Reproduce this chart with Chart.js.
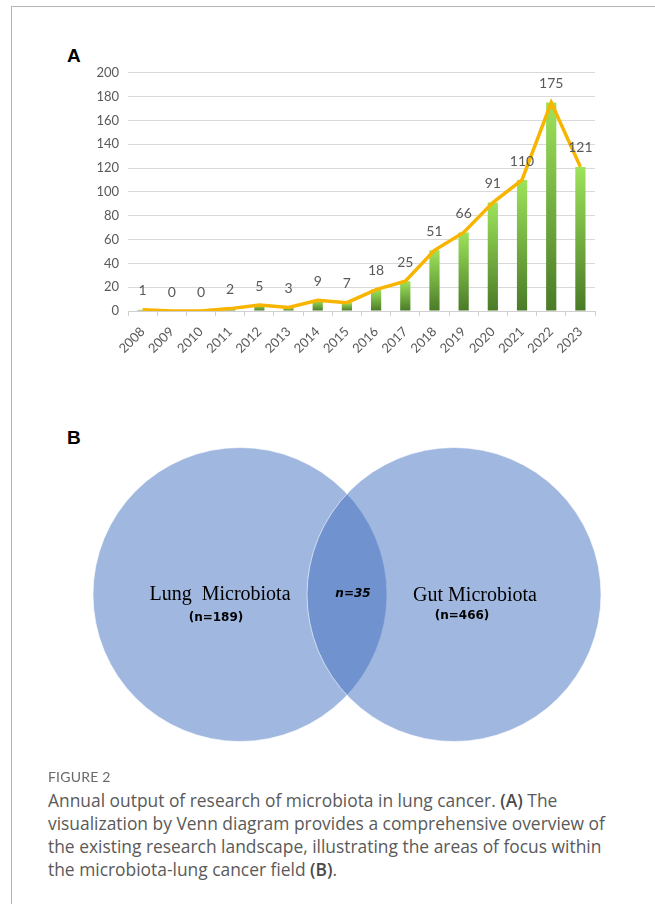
<!DOCTYPE html>
<html>
<head>
<meta charset="utf-8">
<script src="https://cdn.jsdelivr.net/npm/chart.js@4.4.1/dist/chart.umd.min.js"></script>
<style>
  html, body { margin: 0; padding: 0; background: #fff; }
  body { width: 655px; height: 904px; position: relative; overflow: hidden; }
  .frame { position: absolute; left: 11px; top: 6px; width: 644px; height: 898px;
           border-left: 1px solid #b4b4b4; border-top: 1px solid #b4b4b4; }
  .panel { position: absolute; font-family: "Liberation Sans", Arial, sans-serif;
           font-weight: bold; font-size: 19px; color: #000; line-height: 1; }
  #chartA { position: absolute; left: 70px; top: 56px; }
  #chartB { position: absolute; left: 53px; top: 418px; }
  .fig { position: absolute; left: 48px; top: 768px; font-family: Lato, "Open Sans", sans-serif;
         font-size: 14px; color: #6a6a6a; letter-spacing: 0.2px; }
  .caption { position: absolute; left: 48px; top: 789px; font-family: "Open Sans", Lato, sans-serif;
             font-size: 17.4px; line-height: 23px; color: #5a5a5a; white-space: nowrap; }
  .caption b { color: #4a4a4a; font-weight: 600; }
</style>
</head>
<body>
<div class="frame"></div>
<div class="panel" style="left:67px; top:46px;">A</div>
<div class="panel" style="left:67px; top:428px;">B</div>
<canvas id="chartA" width="540" height="316"></canvas>
<canvas id="chartB" width="588" height="353"></canvas>
<div class="fig">FIGURE 2</div>
<div class="caption">Annual output of research of microbiota in lung cancer. <b>(A)</b> The<br>visualization by Venn diagram provides a comprehensive overview of<br>the existing research landscape, illustrating the areas of focus within<br>the microbiota-lung cancer field <b>(B)</b>.</div>

<script>
// Publications per year
const years = ['2008', '2009', '2010', '2011', '2012', '2013', '2014', '2015',
               '2016', '2017', '2018', '2019', '2020', '2021', '2022', '2023'];
const counts = [1, 0, 0, 2, 5, 3, 9, 7, 18, 25, 51, 66, 91, 110, 175, 121];
const countAxisMax = 200;
const countAxisStep = 20;

// Venn diagram sets
const vennLabels = ['Lung  Microbiota', 'Gut Microbiota'];
const vennSizes = [189, 466];
const vennOverlap = 35;
const vennCentres = [-0.728, 0.728];
const vennRadius = 1;

const tickGrey = '#595959';

// Value labels above the trend line
const valueLabels = {
  id: 'valueLabels',
  afterDatasetsDraw(chart) {
    const meta = chart.getDatasetMeta(0);
    const c = chart.ctx;
    c.save();
    c.font = '14px Lato';
    c.fillStyle = tickGrey;
    c.textAlign = 'center';
    c.textBaseline = 'middle';
    meta.data.forEach((pt, i) => c.fillText(String(counts[i]), pt.x, pt.y - 19));
    c.restore();
  }
};

// Green bars shading from light (top) to dark (base)
function barGradient(ctx) {
  const chart = ctx.chart;
  if (!chart.chartArea || ctx.type !== 'data') return '#72b340';
  const y = chart.scales.y;
  const top = y.getPixelForValue(ctx.parsed.y);
  const base = y.getPixelForValue(0);
  if (base - top < 1) return '#72b340';
  const g = chart.ctx.createLinearGradient(0, top, 0, base);
  g.addColorStop(0, '#9de35b');
  g.addColorStop(1, '#4a7a27');
  return g;
}

new Chart(document.getElementById('chartA'), {
  data: {
    labels: years,
    datasets: [
      {
        type: 'line',
        data: counts,
        borderColor: '#f7b500',
        borderWidth: 3.5,
        pointRadius: 0,
        tension: 0,
        order: 0
      },
      {
        type: 'bar',
        data: counts,
        backgroundColor: barGradient,
        barPercentage: 0.35,
        categoryPercentage: 1,
        order: 1
      }
    ]
  },
  options: {
    responsive: false,
    devicePixelRatio: 1,
    animation: false,
    events: [],
    layout: { padding: { top: 16, right: 15, left: 0, bottom: 0 } },
    plugins: { legend: { display: false }, tooltip: { enabled: false } },
    scales: {
      x: {
        offset: true,
        grid: { display: true, drawOnChartArea: false, drawTicks: true, tickLength: 5,
                offset: true, color: '#d0d0d0' },
        border: { display: true, color: '#d0d0d0', width: 1 },
        ticks: { color: tickGrey, font: { family: 'Lato', size: 13 },
                 minRotation: 45, maxRotation: 45, padding: 8, autoSkip: false },
        afterFit(scale) { scale.height = 61; }
      },
      y: {
        min: 0,
        max: countAxisMax,
        grid: { color: '#d9d9d9', drawTicks: false },
        border: { display: false },
        ticks: { stepSize: countAxisStep, color: tickGrey, font: { family: 'Lato', size: 13 }, padding: 9 },
        afterFit(scale) { scale.width = 58; }
      }
    }
  },
  plugins: [valueLabels]
});

// Venn labels
const vennText = {
  id: 'vennText',
  afterDatasetsDraw(chart) {
    const c = chart.ctx;
    const xs = chart.scales.x, ys = chart.scales.y;
    const cy = ys.getPixelForValue(0);
    const lx = xs.getPixelForValue(vennCentres[0]);
    const rx = xs.getPixelForValue(vennCentres[1]);
    const mx = xs.getPixelForValue((vennCentres[0] + vennCentres[1]) / 2);
    c.save();
    c.fillStyle = '#000';
    c.textAlign = 'center';
    c.textBaseline = 'middle';
    c.font = '20px "Liberation Serif"';
    c.fillText(vennLabels[0], lx - 20, cy);
    c.fillText(vennLabels[1], rx + 21, cy + 1);
    c.font = 'bold 12px "DejaVu Sans"';
    c.fillText('(n=' + vennSizes[0] + ')', lx - 24, cy + 23);
    c.fillText('(n=' + vennSizes[1] + ')', rx + 8, cy + 21);
    c.font = 'italic bold 12px "DejaVu Sans"';
    c.fillText('n=' + vennOverlap, mx + 6, cy - 1);
    c.restore();
  }
};

new Chart(document.getElementById('chartB'), {
  type: 'scatter',
  data: {
    datasets: [{
      data: vennCentres.map(x => ({ x: x, y: 0 })),
      pointRadius: (ctx) => {
        const s = ctx.chart.scales.x;
        return s ? s.getPixelForValue(vennRadius) - s.getPixelForValue(0) : 0;
      },
      pointBackgroundColor: 'rgba(65, 111, 193, 0.5)',
      pointBorderColor: 'rgba(255, 255, 255, 0.6)',
      pointBorderWidth: 1,
      clip: false
    }]
  },
  options: {
    responsive: false,
    devicePixelRatio: 1,
    animation: false,
    events: [],
    layout: { padding: 0 },
    plugins: { legend: { display: false }, tooltip: { enabled: false } },
    scales: {
      x: { type: 'linear', min: -2, max: 2, display: false },
      y: { type: 'linear', min: -1.2, max: 1.2, display: false }
    }
  },
  plugins: [vennText]
});
</script>
</body>
</html>
